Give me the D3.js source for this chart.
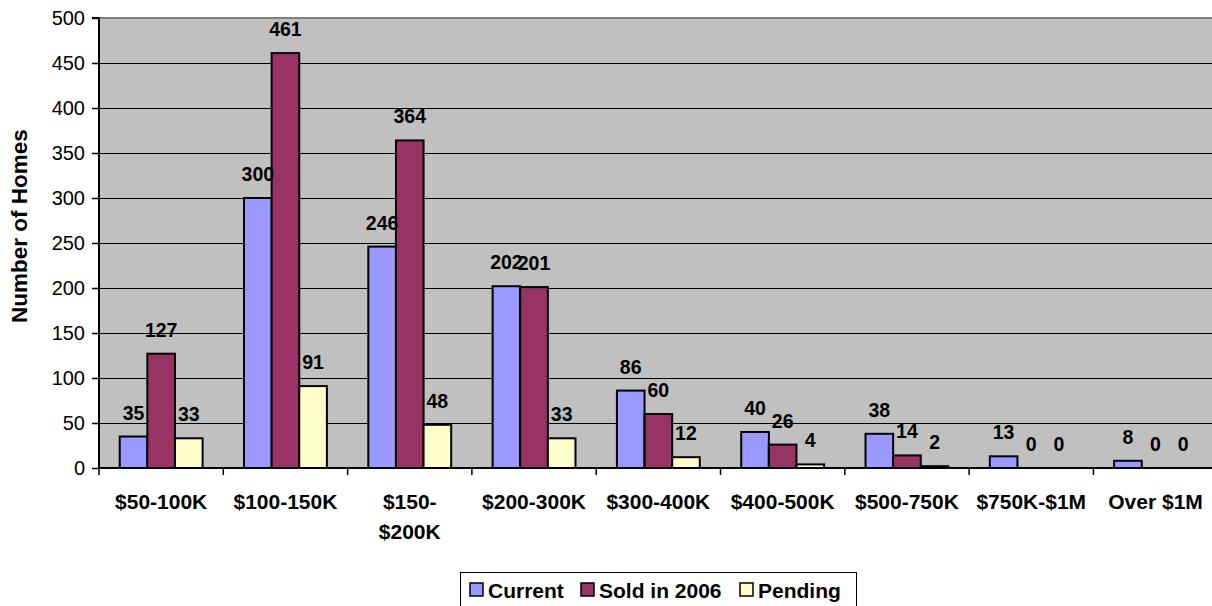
<!DOCTYPE html>
<html>
<head>
<meta charset="utf-8">
<script src="https://cdn.jsdelivr.net/npm/d3@7"></script>
<style>
  html, body { margin: 0; padding: 0; background: #ffffff; }
  svg { display: block; }
  text { font-family: Arial, "Liberation Sans", sans-serif; fill: #000; }
</style>
</head>
<body>
<svg id="chart" width="1212" height="606"></svg>
<script>
// Price bands and home counts per series
const categories = ["$50-100K", "$100-150K", "$150-$200K", "$200-300K", "$300-400K",
                    "$400-500K", "$500-750K", "$750K-$1M", "Over $1M"];
// Axis labels as drawn (one entry per line)
const categoryLabels = [["$50-100K"], ["$100-150K"], ["$150-", "$200K"], ["$200-300K"],
                        ["$300-400K"], ["$400-500K"], ["$500-750K"], ["$750K-$1M"], ["Over $1M"]];
const seriesNames = ["Current", "Sold in 2006", "Pending"];
const current  = [35, 300, 246, 202, 86, 40, 38, 13, 8];
const sold2006 = [127, 461, 364, 201, 60, 26, 14, 0, 0];
const pending  = [33, 91, 48, 33, 12, 4, 2, 0, 0];
const yTicks   = [0, 50, 100, 150, 200, 250, 300, 350, 400, 450, 500];
const seriesColors = ["#9999FF", "#993366", "#FFFFCC"];

const seriesValues = [current, sold2006, pending];
const rows = categories.map((c, i) => ({
  cat: c,
  values: seriesNames.map((s, j) => ({ series: s, value: seriesValues[j][i] }))
}));

const svg = d3.select("#chart");
const plot = { left: 99, top: 18, bottom: 468, step: 124.3 };
plot.right = plot.left + plot.step * categories.length;

const x = d3.scaleBand().domain(categories).range([plot.left, plot.right]).paddingInner(0).paddingOuter(0);
const xs = d3.scaleBand().domain(seriesNames).range([0, x.bandwidth()]).paddingInner(0).paddingOuter(0.75);
const y = d3.scaleLinear().domain([0, 500]).range([plot.bottom, plot.top]);
const color = d3.scaleOrdinal().domain(seriesNames).range(seriesColors);

// Plot background
svg.append("rect")
  .attr("x", plot.left).attr("y", plot.top)
  .attr("width", plot.right - plot.left).attr("height", plot.bottom - plot.top)
  .attr("fill", "#C0C0C0");

// Horizontal gridlines
svg.append("g").selectAll("line")
  .data(yTicks.filter(d => d > 0 && d < 500))
  .join("line")
  .attr("x1", plot.left).attr("x2", plot.right)
  .attr("y1", d => Math.round(y(d)) + 0.5).attr("y2", d => Math.round(y(d)) + 0.5)
  .attr("stroke", "#000").attr("stroke-width", 1);

// Top border of the plot area
svg.append("line")
  .attr("x1", plot.left).attr("x2", plot.right)
  .attr("y1", y(500)).attr("y2", y(500))
  .attr("stroke", "#808080").attr("stroke-width", 2);

// Bars
const groups = svg.append("g").selectAll("g")
  .data(rows).join("g")
  .attr("transform", d => `translate(${x(d.cat)},0)`);

groups.selectAll("rect")
  .data(d => d.values.filter(v => v.value > 0))
  .join("rect")
  .attr("x", d => xs(d.series))
  .attr("y", d => y(d.value))
  .attr("width", xs.bandwidth())
  .attr("height", d => y(0) - y(d.value))
  .attr("fill", d => color(d.series))
  .attr("stroke", "#000")
  .attr("stroke-width", 2);

// Value labels
groups.selectAll("text")
  .data(d => d.values)
  .join("text")
  .attr("x", d => xs(d.series) + xs.bandwidth() / 2)
  .attr("y", d => y(d.value) - 17)
  .attr("text-anchor", "middle")
  .attr("font-size", 19.5)
  .attr("font-weight", "bold")
  .text(d => d.value);

// Y axis
const yAxis = d3.axisLeft(y).tickValues(yTicks).tickSize(7).tickPadding(7).tickFormat(d3.format("d"));
const yg = svg.append("g").attr("transform", `translate(${plot.left},0)`).call(yAxis);
yg.select(".domain").attr("stroke", "#000").attr("stroke-width", 2).attr("d", `M-7,${plot.top}H0V${plot.bottom}`);
yg.selectAll(".tick line").attr("stroke", "#000").attr("stroke-width", 1.5);
yg.selectAll(".tick text").attr("font-size", 20).attr("font-family", "Arial, 'Liberation Sans', sans-serif").attr("fill", "#000");

// X axis line and category tick marks
const xg = svg.append("g");
xg.append("line")
  .attr("x1", plot.left).attr("x2", plot.right)
  .attr("y1", plot.bottom).attr("y2", plot.bottom)
  .attr("stroke", "#000").attr("stroke-width", 2);
xg.selectAll("line.tick")
  .data(d3.range(categories.length + 1))
  .join("line")
  .attr("class", "tick")
  .attr("x1", i => plot.left + i * x.step()).attr("x2", i => plot.left + i * x.step())
  .attr("y1", plot.bottom).attr("y2", plot.bottom + 7)
  .attr("stroke", "#000").attr("stroke-width", 1.5);

// Category labels
const xl = xg.selectAll("text.cat")
  .data(categories)
  .join("text")
  .attr("class", "cat")
  .attr("text-anchor", "middle")
  .attr("font-size", 21)
  .attr("font-weight", "bold");
xl.each(function(d, i) {
  const t = d3.select(this);
  categoryLabels[i].forEach((line, k) => {
    t.append("tspan")
      .attr("x", x(d) + x.bandwidth() / 2)
      .attr("y", 509 + k * 30)
      .text(line);
  });
});

// Y axis title
svg.append("text")
  .attr("transform", "translate(27,226) rotate(-90)")
  .attr("text-anchor", "middle")
  .attr("font-size", 22.5)
  .attr("font-weight", "bold")
  .text("Number of Homes");

// Legend
const legend = svg.append("g");
legend.append("rect")
  .attr("x", 460.5).attr("y", 572.5).attr("width", 396).attr("height", 40)
  .attr("fill", "#fff").attr("stroke", "#000").attr("stroke-width", 1);
const legendX = [470, 581, 740];
seriesNames.forEach((s, i) => {
  legend.append("rect")
    .attr("x", legendX[i]).attr("y", 583)
    .attr("width", 13).attr("height", 13)
    .attr("fill", color(s)).attr("stroke", "#000").attr("stroke-width", 1.5);
  legend.append("text")
    .attr("x", legendX[i] + 18).attr("y", 598)
    .attr("font-size", 21)
    .attr("font-weight", "bold")
    .text(s);
});
</script>
</body>
</html>
